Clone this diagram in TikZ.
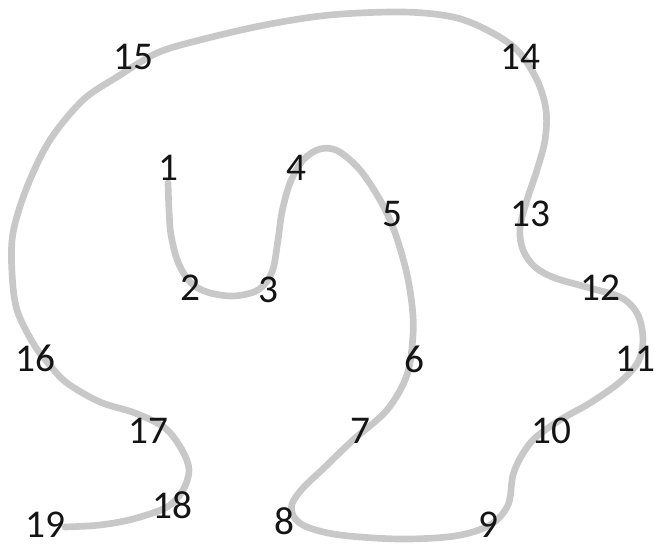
\documentclass[tikz,border=0pt]{standalone}
\usepackage{fontspec}
\setmainfont{Carlito}
\definecolor{trailgray}{RGB}{200, 200, 200}
\definecolor{labelblack}{RGB}{20, 20, 20}
\usepackage{tikz}
\usetikzlibrary{positioning}

\begin{document}
\begin{tikzpicture}[x=0.75pt, y=-0.75pt, every node/.style={font=\fontsize{29.5}{30}\selectfont, text=labelblack, inner sep=0pt}]
\useasboundingbox (0,0) rectangle (656,548);
% The trail
\draw[trailgray, line width=5pt, line cap=round] plot[smooth, tension=0.55] coordinates {
  (168,183) (169,210) (171,235) (178,262) (190,282) (207,292) (233,296) (258,290) (272,272)
  (278,240) (282,212) (290,183) (303,160) (320,149) (338,151) (360,170) (380,200) (394,230)
  (406,270) (412,305) (413,335) (407,375) (387,410) (353,440) (325,467) (303,488) (292,504)
  (294,517) (307,527) (340,535) (400,539) (455,536) (490,525) (508,505) (513,475) (522,455)
  (535,438) (560,420) (590,403) (620,382) (638,362) (643,340) (638,315) (622,298) (590,288)
  (555,278) (535,267) (523,250) (520,228) (527,200) (537,170) (545,140) (546,110) (537,80)
  (517,50) (487,30) (453,17) (403,12) (330,15) (265,25) (200,40) (157,53) (117,77) (83,100)
  (50,140) (27,187) (13,233) (12,273) (17,310) (33,343) (48,363) (67,383) (100,402) (135,413)
  (165,428) (182,450) (189,470) (183,490) (167,507) (133,519) (100,525) (65,527)};
% Stops
\node (S1) at (168,168) {1};
\node (S2) at (190,288) {2};
\node (S3) at (268,290) {3};
\node (S4) at (296,168) {4};
\node (S5) at (392,214) {5};
\node (S6) at (414,359) {6};
\node (S7) at (360,431) {7};
\node (S8) at (284,521) {8};
\node (S9) at (488,525) {9};
\node (S10) at (551,431) {10};
\node (S11) at (635,359) {11};
\node (S12) at (600,288) {12};
\node (S13) at (530,214) {13};
\node (S14) at (520,57) {14};
\node (S15) at (133,57) {15};
\node (S16) at (35,358) {16};
\node (S17) at (148,431) {17};
\node (S18) at (172,505) {18};
\node (S19) at (45,525) {19};
\end{tikzpicture}
\end{document}
